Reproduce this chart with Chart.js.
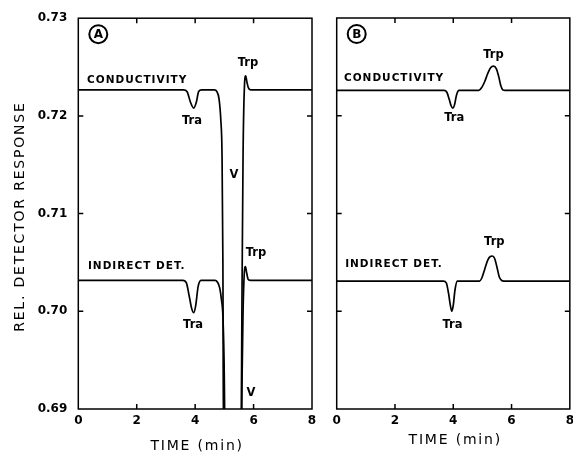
<!DOCTYPE html>
<html lang="en">
<head>
<meta charset="UTF-8">
<title>Conductivity vs Indirect Detection</title>
<script src="https://cdn.jsdelivr.net/npm/chart.js"></script>
<style>
  body { margin: 0; background: #fff; overflow: hidden; }
  #wrap { position: relative; width: 573px; height: 456px; overflow: hidden; }
  #wrap canvas { position: absolute; top: 0; }
  #chartA { left: 0; }
  #chartB { left: 322px; }
</style>
</head>
<body>
<div id="wrap">
  <canvas id="chartA" width="322" height="456"></canvas>
  <canvas id="chartB" width="257" height="456"></canvas>
</div>
<script>
// axis ranges and tick values
const timeTicks = [0, 2, 4, 6, 8];
const responseTicks = [0.69, 0.70, 0.71, 0.72, 0.73];

// traces: [time (min), relative response]
const condA = [
  [0, 0.72266], [3.6, 0.72266], [3.72, 0.7225], [3.84, 0.7214], [3.95, 0.7208],
  [4.04, 0.7214], [4.12, 0.7225], [4.22, 0.72266], [4.66, 0.72266], [4.74, 0.7225],
  [4.82, 0.7217], [4.88, 0.7195], [4.92, 0.716], [4.95, 0.705], [4.97, 0.686],
  [5.57, 0.686], [5.6, 0.700], [5.64, 0.716], [5.69, 0.7232], [5.73, 0.7241],
  [5.77, 0.7235], [5.82, 0.7229], [5.9, 0.72266], [8, 0.72266]
];
const indA = [
  [0, 0.70317], [3.58, 0.70317], [3.7, 0.7029], [3.8, 0.7015], [3.88, 0.7003],
  [3.95, 0.69985], [4.02, 0.7006], [4.1, 0.7025], [4.2, 0.70317], [4.68, 0.70317],
  [4.76, 0.7030], [4.84, 0.7024], [4.9, 0.7012], [4.95, 0.6995], [4.99, 0.695],
  [5.03, 0.686], [5.58, 0.686], [5.61, 0.694], [5.64, 0.700], [5.68, 0.7038],
  [5.72, 0.70457], [5.76, 0.7040], [5.81, 0.7033], [5.88, 0.70317], [8, 0.70317]
];
const condB = [
  [0, 0.72259], [3.68, 0.72259], [3.78, 0.7224], [3.86, 0.7217], [3.93, 0.7210],
  [3.99, 0.72079], [4.05, 0.7212], [4.11, 0.7221], [4.2, 0.72259], [4.88, 0.72259],
  [4.98, 0.7229], [5.08, 0.7235], [5.18, 0.7243], [5.28, 0.7249], [5.38, 0.72507],
  [5.48, 0.7248], [5.56, 0.7240], [5.63, 0.7231], [5.7, 0.72265], [5.78, 0.72259],
  [8, 0.72259]
];
const indB = [
  [0, 0.70309], [3.66, 0.70309], [3.76, 0.7029], [3.84, 0.7018], [3.9, 0.7006],
  [3.95, 0.7000], [4.0, 0.7006], [4.06, 0.7022], [4.14, 0.70309], [4.9, 0.70309],
  [4.98, 0.7034], [5.08, 0.7043], [5.18, 0.7052], [5.27, 0.7056], [5.34, 0.70565],
  [5.42, 0.7054], [5.5, 0.7045], [5.58, 0.7035], [5.66, 0.70315], [5.74, 0.70309],
  [8, 0.70309]
];

// text labels placed in data units: [text, time, response, align]
const notesA = [
  ['CONDUCTIVITY', 0.30, 0.72366, 'left'],
  ['Tra', 3.89, 0.71946, 'center'],
  ['Trp', 5.81, 0.7254, 'center'],
  ['V', 5.33, 0.71394, 'center'],
  ['INDIRECT DET.', 0.33, 0.70463, 'left'],
  ['Tra', 3.93, 0.69859, 'center'],
  ['Trp', 6.08, 0.70596, 'center'],
  ['V', 5.91, 0.69164, 'center']
];
const notesB = [
  ['CONDUCTIVITY', 0.25, 0.72386, 'left'],
  ['Tra', 4.03, 0.71977, 'center'],
  ['Trp', 5.38, 0.72621, 'center'],
  ['INDIRECT DET.', 0.29, 0.70483, 'left'],
  ['Tra', 3.97, 0.69859, 'center'],
  ['Trp', 5.41, 0.70708, 'center']
];

const toXY = arr => arr.map(p => ({ x: p[0], y: p[1] }));

// frame, inward ticks, notes and axis titles
const framePlugin = {
  id: 'frame',
  afterDraw(chart, args, opts) {
    const { ctx, chartArea: a, scales: { x, y } } = chart;
    ctx.save();
    ctx.strokeStyle = '#000';
    ctx.lineWidth = 1.5;
    ctx.strokeRect(a.left, a.top, a.right - a.left, a.bottom - a.top);
    ctx.beginPath();
    timeTicks.slice(1, -1).forEach(t => {
      const px = x.getPixelForValue(t);
      ctx.moveTo(px, a.bottom); ctx.lineTo(px, a.bottom - 5);
      ctx.moveTo(px, a.top); ctx.lineTo(px, a.top + 5);
    });
    responseTicks.slice(1, -1).forEach(v => {
      const py = y.getPixelForValue(v);
      ctx.moveTo(a.left, py); ctx.lineTo(a.left + 5, py);
      ctx.moveTo(a.right, py); ctx.lineTo(a.right - 5, py);
    });
    ctx.stroke();

    ctx.fillStyle = '#000';
    ctx.textBaseline = 'middle';
    opts.notes.forEach(n => {
      const big = n[0].length > 3;
      ctx.font = big ? 'bold 10.5px "DejaVu Sans"' : 'bold 11.5px "DejaVu Sans"';
      ctx.letterSpacing = big ? '1px' : '0px';
      ctx.textAlign = n[3];
      ctx.fillText(n[0], x.getPixelForValue(n[1]), y.getPixelForValue(n[2]));
    });

    // circled panel letter
    const bx = a.left + 20, by = a.top + 16;
    ctx.letterSpacing = '0px';
    ctx.lineWidth = 2;
    ctx.beginPath();
    ctx.arc(bx, by, 9, 0, Math.PI * 2);
    ctx.stroke();
    ctx.font = 'bold 12px "DejaVu Sans"';
    ctx.textAlign = 'center';
    ctx.fillText(opts.badge, bx, by + 1);

    // axis titles
    ctx.font = '14px "DejaVu Sans"';
    ctx.letterSpacing = '1.8px';
    ctx.textAlign = 'center';
    ctx.fillText('TIME (min)', (a.left + a.right) / 2 + 2, a.bottom + opts.titleGap);
    if (opts.yTitle) {
      ctx.translate(20.5, (a.top + a.bottom) / 2 + 3);
      ctx.rotate(-Math.PI / 2);
      ctx.fillText('REL. DETECTOR RESPONSE', 0, 0);
    }
    ctx.restore();
  }
};

function makeChart(id, cond, ind, notes, badge, showY, yWidth, padRight, titleGap) {
  const line = data => ({
    data: toXY(data),
    borderColor: '#000',
    borderWidth: 1.7,
    pointRadius: 0,
    cubicInterpolationMode: 'monotone',
    fill: false
  });
  return new Chart(document.getElementById(id), {
    type: 'line',
    data: { datasets: [line(cond), line(ind)] },
    options: {
      responsive: false,
      animation: false,
      layout: { padding: { top: 18, right: padRight, bottom: 0, left: 0 } },
      plugins: {
        legend: { display: false },
        tooltip: { enabled: false },
        frame: { notes: notes, badge: badge, yTitle: showY, titleGap: titleGap }
      },
      scales: {
        x: {
          type: 'linear',
          min: 0, max: 8,
          afterBuildTicks: s => { s.ticks = timeTicks.map(v => ({ value: v })); },
          grid: { display: false, drawTicks: false },
          border: { display: false },
          ticks: {
            color: '#000',
            padding: 5,
            maxRotation: 0,
            font: { family: 'DejaVu Sans', size: 12, weight: 'bold' }
          },
          afterFit: s => { s.height = 47; }
        },
        y: {
          min: 0.69, max: 0.73,
          afterBuildTicks: s => { s.ticks = responseTicks.map(v => ({ value: v })); },
          grid: { display: false, drawTicks: false },
          border: { display: false },
          ticks: {
            display: showY,
            color: '#000',
            padding: 11,
            font: { family: 'DejaVu Sans', size: 12, weight: 'bold' },
            callback: v => v.toFixed(2)
          },
          afterFit: s => { s.width = yWidth; }
        }
      }
    },
    plugins: [framePlugin]
  });
}

makeChart('chartA', condA, indA, notesA, 'A', true, 78.3, 10, 37);
makeChart('chartB', condB, indB, notesB, 'B', false, 14.7, 4, 31);
</script>
</body>
</html>
